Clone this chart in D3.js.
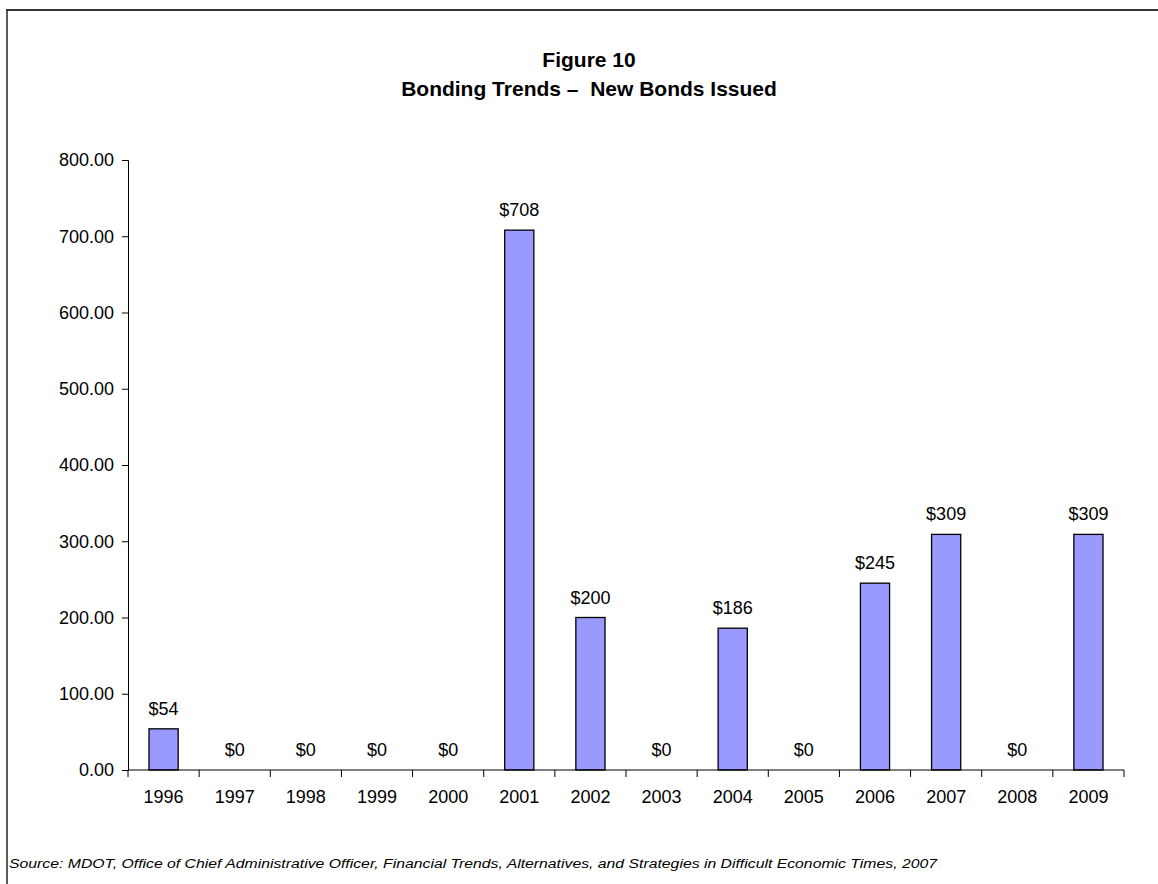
<!DOCTYPE html>
<html><head><meta charset="utf-8">
<script src="https://cdn.jsdelivr.net/npm/d3@7"></script>
<style>body{margin:0;background:#fff;} svg{display:block;}</style>
</head><body>
<svg id="c" width="1158" height="884"></svg>
<script>
const years = ["1996","1997","1998","1999","2000","2001","2002","2003","2004","2005","2006","2007","2008","2009"];
const values = [54,0,0,0,0,708,200,0,186,0,245,309,0,309];
const labels = ["$54","$0","$0","$0","$0","$708","$200","$0","$186","$0","$245","$309","$0","$309"];
const yTicks = [0,100,200,300,400,500,600,700,800];
const titleLines = ["Figure 10","Bonding Trends \u2013  New Bonds Issued"];
const sourceText = "Source: MDOT, Office of Chief Administrative Officer, Financial Trends, Alternatives, and Strategies in Difficult Economic Times, 2007";

const svg = d3.select("#c");
const font = "Arial, 'Liberation Sans', sans-serif";

// frame
svg.append("line").attr("x1",6).attr("x2",1158).attr("y1",10).attr("y2",10).attr("stroke","#333").attr("stroke-width",2);
svg.append("line").attr("x1",7).attr("x2",7).attr("y1",9).attr("y2",884).attr("stroke","#333").attr("stroke-width",1.6);

// title
svg.selectAll("text.title").data(titleLines).join("text")
  .attr("x",589).attr("y",(d,i)=>67+i*29).attr("text-anchor","middle")
  .attr("font-family",font).attr("font-weight","bold").attr("font-size",21)
  .style("white-space","pre").text(d=>d);

const x = d3.scaleBand().domain(years).range([128,1124]).paddingInner(0.59).paddingOuter(0.295);
const xTicks = d3.scaleBand().domain(years).range([128,1124]);
const y = d3.scaleLinear().domain([0,800]).range([770,160]);

const g = svg.append("g");
// y axis
const ya = g.append("g").attr("transform","translate(128,0)")
  .call(d3.axisLeft(y).tickValues(yTicks).tickFormat(d3.format(".2f")).tickSize(6).tickPadding(8));
ya.select(".domain").attr("stroke","#000");
ya.selectAll("text").attr("font-family",font).attr("font-size",18).attr("fill","#000");

// bars
g.selectAll("rect.bar").data(values).join("rect")
  .attr("x",(d,i)=>x(years[i])).attr("width",x.bandwidth())
  .attr("y",d=>y(d)).attr("height",d=>y(0)-y(d))
  .attr("fill","#9999FF").attr("stroke","#000").attr("stroke-width",1.3);

// x axis
const xa = g.append("g").attr("transform","translate(0,770)")
  .call(d3.axisBottom(xTicks).tickSize(0).tickPadding(20));
xa.select(".domain").remove();
xa.selectAll(".tick line").remove();
xa.append("line").attr("x1",128).attr("x2",1124).attr("stroke","#000");
xa.selectAll("line.tk").data(d3.range(years.length+1)).join("line").attr("class","tk")
  .attr("x1",i=>128+i*xTicks.step()).attr("x2",i=>128+i*xTicks.step())
  .attr("y1",0).attr("y2",7).attr("stroke","#000");
xa.selectAll(".tick text").attr("font-family",font).attr("font-size",18).attr("fill","#000");

// value labels
g.selectAll("text.val").data(values).join("text")
  .attr("x",(d,i)=>x(years[i])+x.bandwidth()/2).attr("y",d=>y(d)-14)
  .attr("text-anchor","middle").attr("font-family",font).attr("font-size",18).text((d,i)=>labels[i]);

// source
svg.append("text").attr("x",9).attr("y",868).attr("font-family",font).attr("font-style","italic")
  .attr("font-size",12.5).attr("textLength",928).attr("lengthAdjust","spacingAndGlyphs").text(sourceText);
</script>
</body></html>
